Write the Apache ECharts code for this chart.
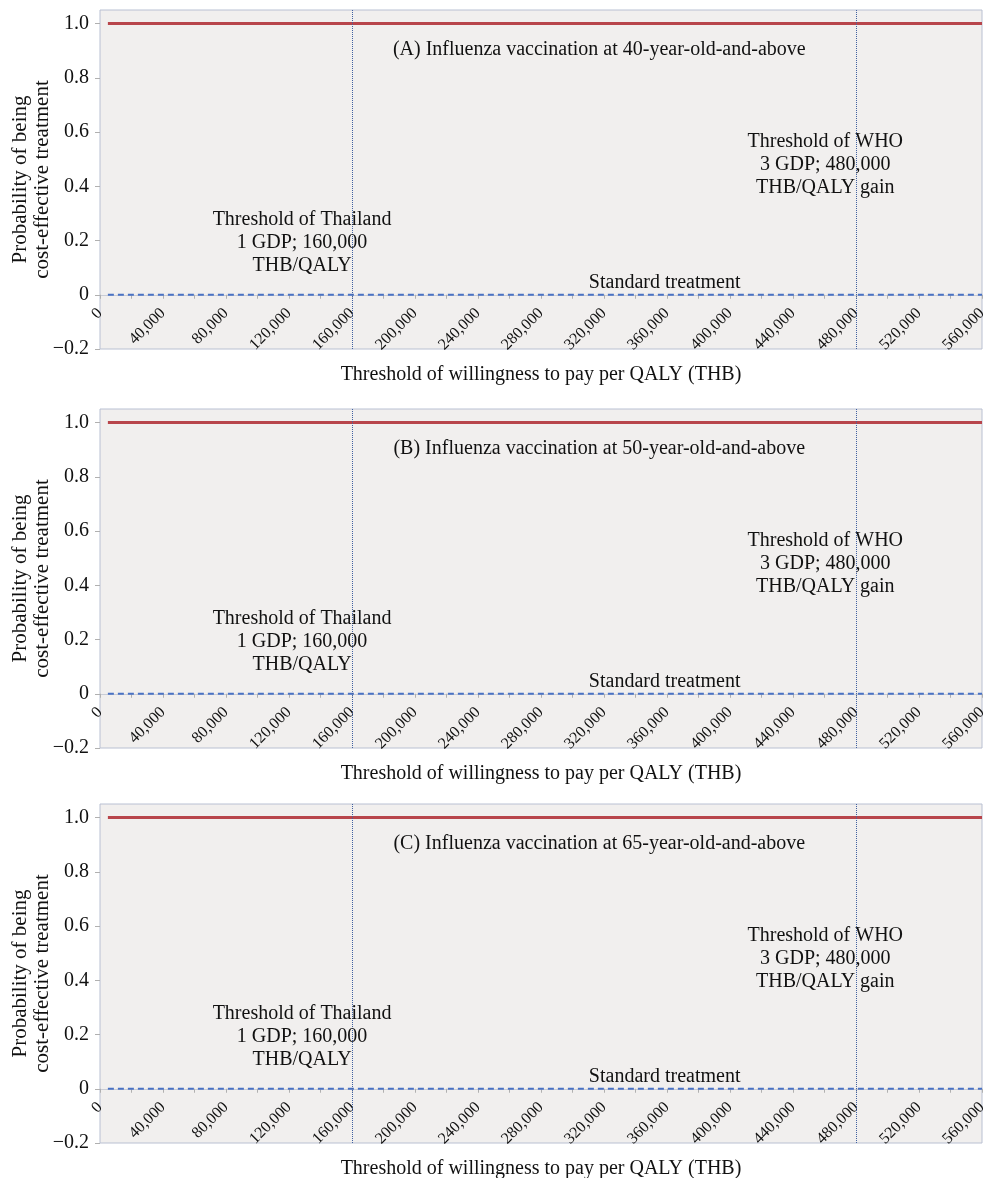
<!DOCTYPE html>
<html>
<head>
<meta charset="utf-8">
<script src="https://cdn.jsdelivr.net/npm/echarts@6/dist/echarts.min.js"></script>
<style>
html,body{margin:0;padding:0;background:#fff;}
#chart{width:986px;height:1178px;}
</style>
</head>
<body>
<div id="chart"></div>
<script>
// ---- data ----
const wtp = [5000, 40000, 80000, 120000, 160000, 200000, 240000, 280000, 320000, 360000, 400000, 440000, 480000, 520000, 560000];
const probVaccineA = [1, 1, 1, 1, 1, 1, 1, 1, 1, 1, 1, 1, 1, 1, 1];
const probStandardA = [0, 0, 0, 0, 0, 0, 0, 0, 0, 0, 0, 0, 0, 0, 0];
const probVaccineB = [1, 1, 1, 1, 1, 1, 1, 1, 1, 1, 1, 1, 1, 1, 1];
const probStandardB = [0, 0, 0, 0, 0, 0, 0, 0, 0, 0, 0, 0, 0, 0, 0];
const probVaccineC = [1, 1, 1, 1, 1, 1, 1, 1, 1, 1, 1, 1, 1, 1, 1];
const probStandardC = [0, 0, 0, 0, 0, 0, 0, 0, 0, 0, 0, 0, 0, 0, 0];
const panelTitles = [
  '(A) Influenza vaccination at 40-year-old-and-above',
  '(B) Influenza vaccination at 50-year-old-and-above',
  '(C) Influenza vaccination at 65-year-old-and-above'
];
const thresholds = [160000, 480000];
const thaiLabel = 'Threshold of Thailand\n1 GDP; 160,000\nTHB/QALY';
const whoLabel = 'Threshold of WHO\n3 GDP; 480,000\nTHB/QALY gain';
const standardLabel = 'Standard treatment';
const xTitle = 'Threshold of willingness to pay per QALY (THB)';
const yTitle = 'Probability of being\ncost-effective treatment';

// ---- chart ----
const FONT = '"Liberation Serif", "DejaVu Serif", serif';
const vaccines = [probVaccineA, probVaccineB, probVaccineC];
const standards = [probStandardA, probStandardB, probStandardC];
const tops = [10, 409, 804];
const GRID_H = 339;
const Y_MIN = -0.2, Y_MAX = 1.05;
// x axis sits on the y = 0 line: shift it up from the grid bottom
const X_OFFSET = -GRID_H * (0 - Y_MIN) / (Y_MAX - Y_MIN);
const chart = echarts.init(document.getElementById('chart'));

const grids = [], xAxes = [], yAxes = [], series = [];
const txt = () => ({ fontFamily: FONT, fontSize: 20, color: '#111', lineHeight: 23 });

function yFmt(v) {
  if (Math.abs(v) < 1e-9) return '0';
  if (v < 0) return '\u2212' + (-v).toFixed(1);
  return v.toFixed(1);
}

for (let i = 0; i < 3; i++) {
  grids.push({
    left: 100, right: 4, top: tops[i], height: GRID_H,
    containLabel: false, outerBoundsMode: 'none',
    show: true, backgroundColor: '#f1efee', borderColor: '#b9c0d2', borderWidth: 1
  });
  xAxes.push({
    gridIndex: i, type: 'value', min: 0, max: 560000, interval: 40000,
    position: 'bottom', offset: X_OFFSET,
    axisLine: { show: true, onZero: false, lineStyle: { color: '#c9ccd6', width: 1 } },
    axisTick: { show: true, length: 4, lineStyle: { color: '#b0b0b0' } },
    minorTick: { show: true, splitNumber: 2, length: 4, lineStyle: { color: '#b0b0b0' } },
    splitLine: { show: false },
    axisLabel: {
      rotate: 45, margin: 16, fontFamily: FONT, fontSize: 16, color: '#111',
      formatter: (v) => v.toLocaleString('en-US')
    },
    name: xTitle, nameLocation: 'middle', nameGap: 70, nameMoveOverlap: false,
    nameTextStyle: { fontFamily: FONT, fontSize: 20, color: '#111' }
  });
  yAxes.push({
    gridIndex: i, type: 'value', min: Y_MIN, max: Y_MAX, interval: 0.2,
    axisLine: { show: false },
    axisTick: { show: true, length: 5, lineStyle: { color: '#b0b0b0' } },
    splitLine: { show: false },
    axisLabel: {
      showMaxLabel: false, margin: 11, fontFamily: FONT, fontSize: 20, color: '#111',
      formatter: yFmt
    },
    name: yTitle, nameLocation: 'middle', nameGap: 47, nameRotate: 90, nameMoveOverlap: false,
    nameTextStyle: { fontFamily: FONT, fontSize: 21, color: '#111', lineHeight: 22 }
  });
  series.push({
    type: 'line', xAxisIndex: i, yAxisIndex: i,
    data: wtp.map((x, k) => [x, vaccines[i][k]]),
    showSymbol: false, symbol: 'none',
    lineStyle: { color: '#b8454b', width: 3 },
    z: 3,
    markLine: {
      silent: true, symbol: 'none', label: { show: false },
      lineStyle: { color: '#4060a0', type: 'dotted', width: 1 },
      data: thresholds.map(t => ({ xAxis: t }))
    },
    markPoint: {
      symbol: 'circle', symbolSize: 0,
      label: { show: true, position: 'inside', ...txt() },
      data: [
        { coord: [317000, 0.904], value: 0, label: { formatter: panelTitles[i] } },
        { coord: [128300, 0.191], value: 0, label: { formatter: thaiLabel } },
        { coord: [460500, 0.478], value: 0, label: { formatter: whoLabel } }
      ]
    }
  });
  series.push({
    type: 'line', xAxisIndex: i, yAxisIndex: i,
    data: wtp.map((x, k) => [x, standards[i][k]]),
    showSymbol: false, symbol: 'none',
    lineStyle: { color: '#4a72c4', width: 2, type: [6, 4] },
    z: 3,
    markPoint: {
      symbol: 'circle', symbolSize: 0,
      label: { show: true, position: 'inside', ...txt() },
      data: [
        { coord: [358500, 0.044], value: 0, label: { formatter: standardLabel } }
      ]
    }
  });
}

chart.setOption({
  animation: false,
  backgroundColor: '#ffffff',
  grid: grids, xAxis: xAxes, yAxis: yAxes, series: series
});
</script>
</body>
</html>
